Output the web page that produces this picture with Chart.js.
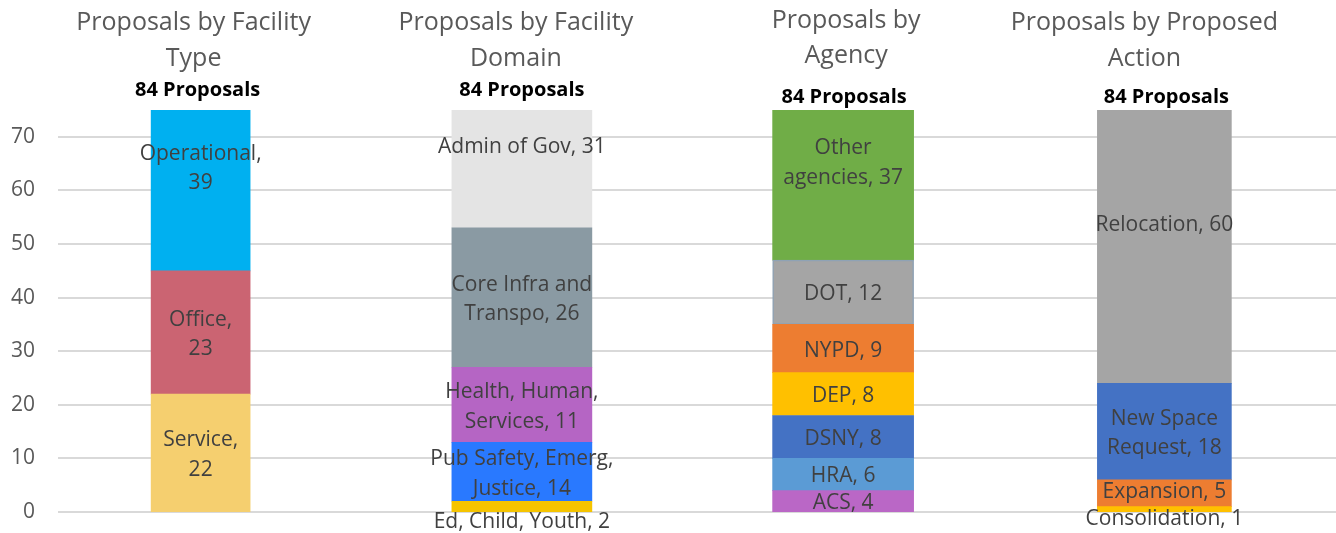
<!DOCTYPE html>
<html lang="en">
<head>
    <meta charset="UTF-8">
    <title>Proposals</title>
    <script src="https://cdn.jsdelivr.net/npm/chart.js"></script>
    <style>
        html, body { margin: 0; padding: 0; background: #fff; }
        #wrap { position: relative; width: 1336px; height: 533px; }
    </style>
</head>
<body>
    <div id="wrap"><canvas id="proposalsChart"></canvas></div>

    <script>
        // Chart data
        const groupTitles = [
            ['Proposals by Facility', 'Type'],
            ['Proposals by Facility', 'Domain'],
            ['Proposals by', 'Agency'],
            ['Proposals by Proposed', 'Action']
        ];
        const totalText = '84 Proposals';
        const yTicks = [0, 10, 20, 30, 40, 50, 60, 70];

        // segments bottom to top
        const typeValues = [22, 23, 39];
        const typeText = ['Service,\n22', 'Office,\n23', 'Operational,\n39'];
        const typeColors = ['#F5CF6F', '#CB6472', '#00B0F0'];

        const domainValues = [2, 11, 14, 26, 31];
        const domainText = ['Ed, Child, Youth, 2', 'Pub Safety, Emerg,\nJustice, 14', 'Health, Human,\nServices, 11',
            'Core Infra and\nTranspo, 26', 'Admin of Gov, 31'];
        const domainColors = ['#F5C400', '#2979FF', '#B565C4', '#8A9AA3', '#E4E4E4'];

        const agencyValues = [4, 6, 8, 8, 9, 12, 37];
        const agencyText = ['ACS, 4', 'HRA, 6', 'DSNY, 8', 'DEP, 8', 'NYPD, 9', 'DOT, 12', 'Other\nagencies, 37'];
        const agencyColors = ['#BA67C6', '#5B9BD5', '#4472C4', '#FFC000', '#ED7D31', '#A5A5A5', '#70AD47'];

        const actionValues = [1, 5, 18, 60];
        const actionText = ['Consolidation, 1', 'Expansion, 5', 'New Space\nRequest, 18', 'Relocation, 60'];
        const actionColors = ['#FFC000', '#ED7D31', '#4472C4', '#A5A5A5'];

        const groups = [
            { values: typeValues, text: typeText, colors: typeColors },
            { values: domainValues, text: domainText, colors: domainColors },
            { values: agencyValues, text: agencyText, colors: agencyColors },
            { values: actionValues, text: actionText, colors: actionColors }
        ];

        // layout bits
        const FONT = '"Open Sans", sans-serif';
        const barWidths = [99, 140, 141, 134];
        const titleDx = [-7, -6, 3, -20];
        const titleY = [[23, 59], [23, 59], [21, 56], [23, 59]];
        const totalDx = [-3, 0, 1, 2];
        const totalY = [90, 90, 97, 97];
        const labelNudge = { '1-0': 13, '3-0': 8, '3-1': -3 };

        // one dataset per segment, value only at its own group
        const datasets = [];
        groups.forEach((g, gi) => {
            g.values.forEach((v, si) => {
                const data = groups.map((_, k) => (k === gi ? v : null));
                const isDot = gi === 2 && si === 5;
                datasets.push({
                    data: data,
                    backgroundColor: g.colors[si],
                    borderColor: isDot ? '#8FA2B5' : g.colors[si],
                    borderWidth: isDot ? 1.5 : 0,
                    borderSkipped: false,
                    barThickness: barWidths[gi],
                    stack: 'all'
                });
            });
        });

        const gridPlugin = {
            id: 'gridPlugin',
            beforeDatasetsDraw(chart) {
                const ctx = chart.ctx;
                const y = chart.scales.y;
                ctx.save();
                ctx.strokeStyle = '#D9D9D9';
                ctx.lineWidth = 2;
                yTicks.forEach(t => {
                    const py = Math.round(y.getPixelForValue(t));
                    ctx.beginPath();
                    ctx.moveTo(58, py);
                    ctx.lineTo(chart.width, py);
                    ctx.stroke();
                });
                ctx.restore();
            }
        };

        const labelPlugin = {
            id: 'labelPlugin',
            afterDatasetsDraw(chart) {
                const ctx = chart.ctx;
                const x = chart.scales.x;
                const y = chart.scales.y;
                ctx.save();
                ctx.font = '21px ' + FONT;
                ctx.fillStyle = '#404040';
                ctx.textAlign = 'center';
                ctx.textBaseline = 'middle';
                groups.forEach((g, gi) => {
                    let base = 0;
                    const cx = x.getPixelForValue(gi);
                    g.values.forEach((v, si) => {
                        const mid = y.getPixelForValue(base + v / 2) + 2 + (labelNudge[gi + '-' + si] || 0);
                        const lines = g.text[si].split('\n');
                        const lh = 29.5;
                        lines.forEach((ln, li) => {
                            ctx.fillText(ln, cx, mid + (li - (lines.length - 1) / 2) * lh);
                        });
                        base += v;
                    });
                });
                ctx.restore();
            },
            afterDraw(chart) {
                const ctx = chart.ctx;
                const x = chart.scales.x;
                ctx.save();
                ctx.textAlign = 'center';
                ctx.textBaseline = 'middle';
                groupTitles.forEach((t, gi) => {
                    const cx = x.getPixelForValue(gi);
                    ctx.font = '25px ' + FONT;
                    ctx.fillStyle = '#595959';
                    t.forEach((ln, li) => ctx.fillText(ln, cx + titleDx[gi], titleY[gi][li]));
                    ctx.font = 'bold 20px ' + FONT;
                    ctx.fillStyle = '#000000';
                    ctx.fillText(totalText, cx + totalDx[gi], totalY[gi]);
                });
                ctx.restore();
            }
        };

        const ctx = document.getElementById('proposalsChart').getContext('2d');
        const chart = new Chart(ctx, {
            type: 'bar',
            data: {
                labels: groupTitles.map(t => t.join(' ')),
                datasets: datasets
            },
            options: {
                responsive: true,
                maintainAspectRatio: false,
                animation: false,
                layout: { padding: { top: 110, bottom: 21, left: 0, right: 11 } },
                plugins: {
                    legend: { display: false },
                    tooltip: { enabled: false }
                },
                scales: {
                    x: {
                        display: false,
                        stacked: true
                    },
                    y: {
                        stacked: true,
                        min: 0,
                        max: 75,
                        afterBuildTicks: s => { s.ticks = yTicks.map(v => ({ value: v })); },
                        afterFit: s => { s.width = 40; },
                        grid: { display: false, drawTicks: false },
                        border: { display: false },
                        ticks: {
                            padding: 5,
                            color: '#595959',
                            font: { family: FONT, size: 21 }
                        }
                    }
                }
            },
            plugins: [gridPlugin, labelPlugin]
        });
    </script>
</body>
</html>
